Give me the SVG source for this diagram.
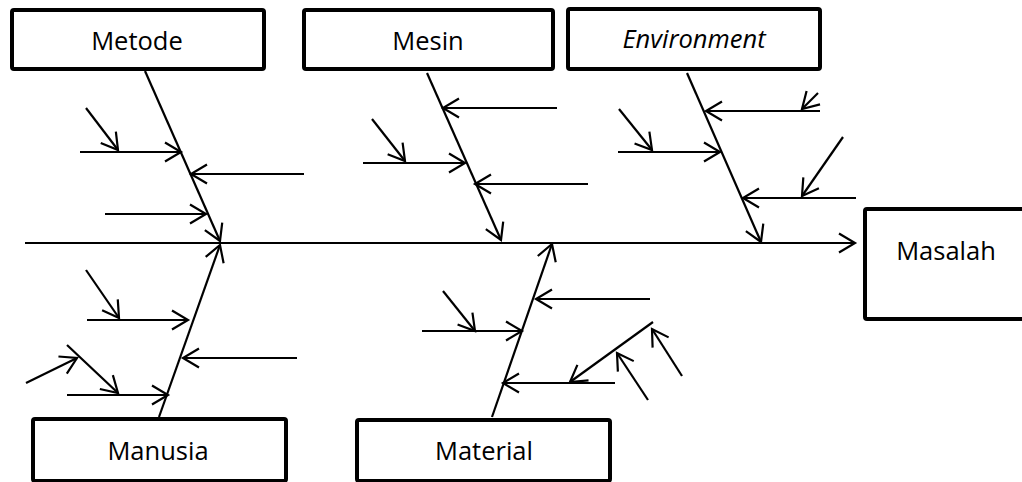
<svg xmlns="http://www.w3.org/2000/svg" width="1022" height="482" viewBox="0 0 1022 482">
  <style>
    .box { fill: #ffffff; stroke: #000000; stroke-width: 4; }
    .label { font-family: "Open Sans", "Liberation Sans", sans-serif; font-size: 25.5px; fill: #000000; text-anchor: middle; }
    .ital { font-style: italic; }
    .ln { stroke: #000000; stroke-width: 2.2; fill: none; marker-end: url(#arr); }
  </style>
  <defs>
    <marker id="arr" viewBox="-20 -12 24 24" markerWidth="24" markerHeight="24" refX="0" refY="0" orient="auto" markerUnits="userSpaceOnUse" overflow="visible">
      <path d="M -16 -9.5 L 0 0 L -16 9.5" fill="none" stroke="#000000" stroke-width="2.2"/>
    </marker>
  </defs>
  <rect width="1022" height="482" fill="#ffffff"/>

  <!-- spine, bones and causes -->
  <g id="connectors">
    <!-- main spine to the effect -->
    <line class="ln" x1="25" y1="243" x2="855" y2="243"/>

    <!-- Metode bone -->
    <line class="ln" x1="145" y1="71" x2="220" y2="241"/>
    <line class="ln" x1="80" y1="152" x2="181" y2="152"/>
    <line class="ln" x1="86" y1="108" x2="118" y2="150"/>
    <line class="ln" x1="304" y1="174" x2="191" y2="174"/>
    <line class="ln" x1="105" y1="214" x2="206" y2="214"/>

    <!-- Mesin bone -->
    <line class="ln" x1="427" y1="73" x2="501" y2="240"/>
    <line class="ln" x1="557" y1="108" x2="443" y2="108"/>
    <line class="ln" x1="363" y1="163" x2="465" y2="163"/>
    <line class="ln" x1="372" y1="119" x2="405" y2="161"/>
    <line class="ln" x1="588" y1="184" x2="475" y2="184"/>

    <!-- Environment bone -->
    <line class="ln" x1="687" y1="73" x2="761" y2="242"/>
    <line class="ln" x1="820" y1="111" x2="706" y2="111"/>
    <line class="ln" x1="818" y1="93" x2="802" y2="109"/>
    <line class="ln" x1="618" y1="152" x2="720" y2="152"/>
    <line class="ln" x1="619" y1="109" x2="652" y2="150"/>
    <line class="ln" x1="856" y1="198" x2="743" y2="198"/>
    <line class="ln" x1="843" y1="137" x2="802" y2="196"/>

    <!-- Manusia bone -->
    <line class="ln" x1="159" y1="417" x2="220" y2="245"/>
    <line class="ln" x1="87" y1="320" x2="188" y2="320"/>
    <line class="ln" x1="86" y1="270" x2="119" y2="318"/>
    <line class="ln" x1="297" y1="358" x2="183" y2="358"/>
    <line class="ln" x1="67" y1="395" x2="168" y2="395"/>
    <line class="ln" x1="67" y1="345" x2="118" y2="393"/>
    <line class="ln" x1="26" y1="383" x2="77" y2="358"/>

    <!-- Material bone -->
    <line class="ln" x1="492" y1="417" x2="552" y2="244"/>
    <line class="ln" x1="650" y1="299" x2="536" y2="299"/>
    <line class="ln" x1="422" y1="331" x2="522" y2="331"/>
    <line class="ln" x1="443" y1="291" x2="475" y2="331"/>
    <line class="ln" x1="615" y1="383" x2="503" y2="383"/>
    <line class="ln" x1="653" y1="322" x2="570" y2="382"/>
    <line class="ln" x1="682" y1="376" x2="652" y2="329"/>
    <line class="ln" x1="648" y1="400" x2="617" y2="353"/>
  </g>

  <g id="metode">
    <rect class="box" x="12" y="10" width="252" height="59" rx="2"/>
    <text class="label" x="137" y="50">Metode</text>
  </g>
  <g id="mesin">
    <rect class="box" x="304" y="10" width="249" height="59" rx="2"/>
    <text class="label" x="428" y="50">Mesin</text>
  </g>
  <g id="environment">
    <rect class="box" x="568" y="9" width="252" height="60" rx="2"/>
    <text class="label ital" x="694" y="48">Environment</text>
  </g>
  <g id="masalah">
    <rect class="box" x="865" y="209" width="165" height="110" rx="2"/>
    <text class="label" x="946" y="260">Masalah</text>
  </g>
  <g id="manusia">
    <rect class="box" x="33" y="419" width="253" height="62" rx="2"/>
    <text class="label" x="158" y="460">Manusia</text>
  </g>
  <g id="material">
    <rect class="box" x="357" y="420" width="253" height="61" rx="2"/>
    <text class="label" x="484" y="460">Material</text>
  </g>
</svg>
